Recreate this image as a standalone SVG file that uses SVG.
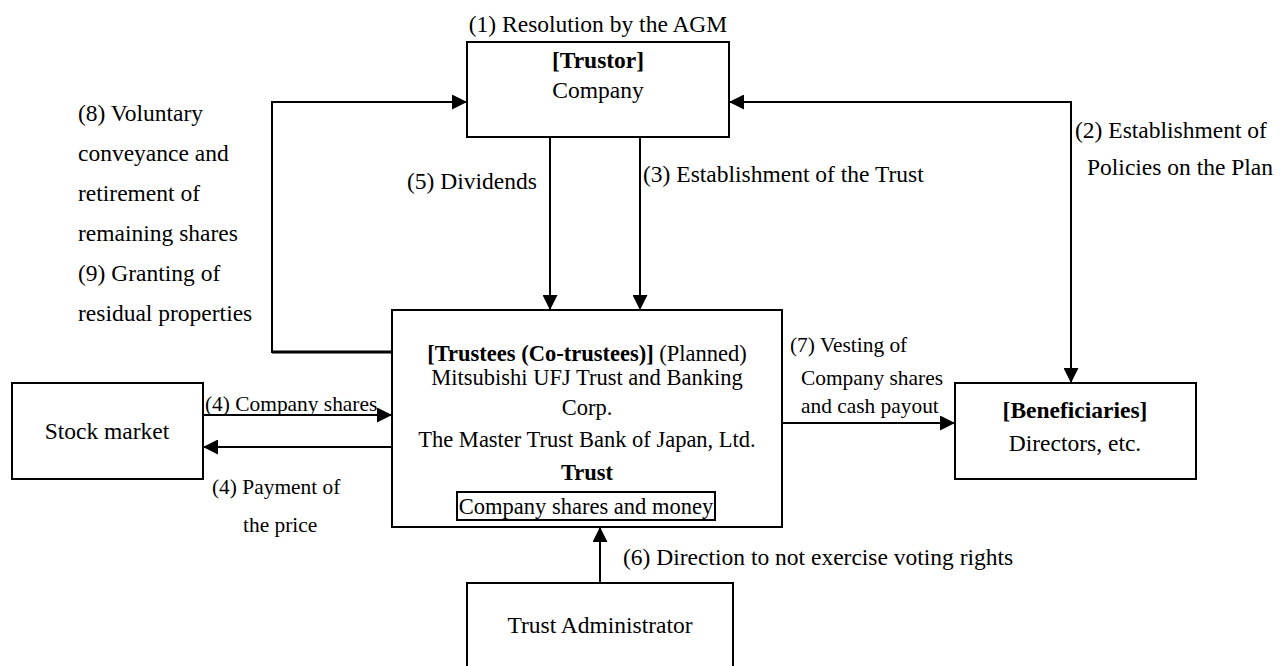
<svg xmlns="http://www.w3.org/2000/svg" width="1280" height="666" viewBox="0 0 1280 666">
  <style>
    text { font-family: "Liberation Serif", "Times New Roman", serif; font-size: 23.5px; fill: #000; }
    .c { text-anchor: middle; }
    .b { font-weight: bold; }
    .s { font-size: 22.5px; }
    .m { font-size: 21.4px; }
    .box { fill: #fff; stroke: #000; stroke-width: 2; }
    .ln { fill: none; stroke: #000; stroke-width: 2; }
  </style>
  <defs>
    <marker id="ah" markerUnits="userSpaceOnUse" markerWidth="15" markerHeight="15" refX="14" refY="7" orient="auto-start-reverse" viewBox="0 0 14 14">
      <path d="M0,0 L14,7 L0,14 z" fill="#000"/>
    </marker>
  </defs>
  <rect width="1280" height="666" fill="#fff"/>

  <g id="connectors">
    <path class="ln" d="M392,352 H272 V102 H467" marker-end="url(#ah)"/>
    <line x1="272" y1="352" x2="392" y2="352" stroke="#000" stroke-width="3"/>
    <path class="ln" d="M729,102 H1071 V383" marker-start="url(#ah)" marker-end="url(#ah)"/>
    <line class="ln" x1="550" y1="137" x2="550" y2="310" marker-end="url(#ah)"/>
    <line class="ln" x1="640" y1="137" x2="640" y2="310" marker-end="url(#ah)"/>
    <line class="ln" x1="203" y1="415" x2="392" y2="415" marker-end="url(#ah)"/>
    <line class="ln" x1="392" y1="447" x2="203" y2="447" marker-end="url(#ah)"/>
    <line class="ln" x1="782" y1="423" x2="955" y2="423" marker-end="url(#ah)"/>
    <line class="ln" x1="600" y1="583" x2="600" y2="527" marker-end="url(#ah)"/>

    <text x="598" y="32" class="c">(1) Resolution by the AGM</text>
    <text x="78" y="121">(8) Voluntary</text>
    <text x="78" y="161">conveyance and</text>
    <text x="78" y="201">retirement of</text>
    <text x="78" y="241">remaining shares</text>
    <text x="78" y="281">(9) Granting of</text>
    <text x="78" y="321">residual properties</text>
    <text x="407" y="189">(5) Dividends</text>
    <text x="643" y="182">(3) Establishment of the Trust</text>
    <text x="1075" y="138">(2) Establishment of</text>
    <text x="1087" y="175">Policies on the Plan</text>
    <text x="205" y="411" class="m">(4) Company shares</text>
    <text x="212" y="494" class="m">(4) Payment of</text>
    <text x="243" y="532" class="m">the price</text>
    <text x="790" y="352" class="m">(7) Vesting of</text>
    <text x="801" y="385" class="m">Company shares</text>
    <text x="801" y="413" class="m">and cash payout</text>
    <text x="623" y="565">(6) Direction to not exercise voting rights</text>
  </g>

  <g id="trustor">
    <rect class="box" x="467" y="42" width="262" height="95"/>
    <text x="598" y="68" class="c b">[Trustor]</text>
    <text x="598" y="98" class="c">Company</text>
  </g>

  <g id="trustees">
    <rect class="box" x="392" y="310" width="390" height="217"/>
    <text x="587" y="361" class="c s"><tspan class="b">[Trustees (Co-trustees)]</tspan> (Planned)</text>
    <text x="587" y="385" class="c s">Mitsubishi UFJ Trust and Banking</text>
    <text x="587" y="415" class="c s">Corp.</text>
    <text x="587" y="447" class="c s">The Master Trust Bank of Japan, Ltd.</text>
    <text x="587" y="480" class="c s b">Trust</text>
    <rect class="box" x="457" y="492" width="258" height="28"/>
    <text x="586" y="514" class="c s">Company shares and money</text>
  </g>

  <g id="beneficiaries">
    <rect class="box" x="955" y="383" width="241" height="96"/>
    <text x="1075" y="418" class="c b">[Beneficiaries]</text>
    <text x="1075" y="451" class="c">Directors, etc.</text>
  </g>

  <g id="stock-market">
    <rect class="box" x="12" y="383" width="191" height="96"/>
    <text x="107" y="439" class="c">Stock market</text>
  </g>

  <g id="trust-administrator">
    <rect class="box" x="467" y="583" width="266" height="100"/>
    <text x="600" y="633" class="c">Trust Administrator</text>
  </g>
</svg>
